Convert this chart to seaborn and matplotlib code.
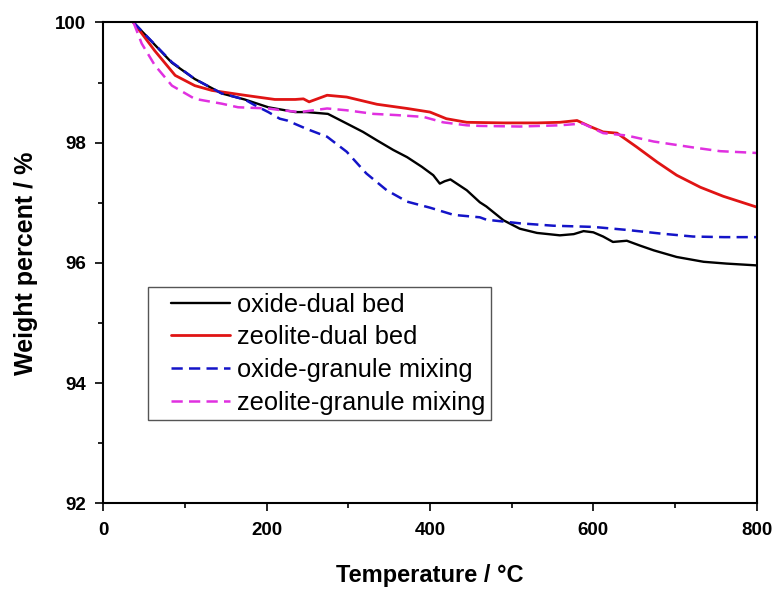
import matplotlib
matplotlib.use("Agg")
import matplotlib.pyplot as plt
import pandas as pd
import seaborn as sns
from matplotlib.lines import Line2D
from matplotlib.legend_handler import HandlerLine2D
from matplotlib.ticker import MultipleLocator

# ---- TGA weight-loss curves -------------------------------------------------
series_names = ["oxide-dual bed", "zeolite-dual bed",
                "oxide-granule mixing", "zeolite-granule mixing"]

oxide_dual_T = [37, 84, 112, 145, 173, 202, 235, 249, 275, 298, 318, 335, 355,
                372, 390, 404, 412, 418, 425, 445, 461, 469, 490, 510, 531, 559,
                576, 588, 600, 612, 624, 641, 657, 674, 702, 735, 763, 800]
oxide_dual_W = [100.0, 99.33, 99.06, 98.82, 98.72, 98.59, 98.51, 98.51, 98.48,
                98.32, 98.18, 98.04, 97.88, 97.76, 97.60, 97.46, 97.32, 97.36,
                97.39, 97.21, 97.01, 96.94, 96.71, 96.57, 96.50, 96.46, 96.48,
                96.53, 96.51, 96.44, 96.35, 96.37, 96.29, 96.21, 96.10, 96.02,
                95.99, 95.96]

zeolite_dual_T = [37, 63, 88, 112, 133, 173, 210, 235, 245, 252, 274, 298, 335,
                  372, 400, 420, 445, 490, 531, 559, 580, 596, 612, 629, 653,
                  678, 702, 731, 759, 800]
zeolite_dual_W = [100.0, 99.53, 99.12, 98.95, 98.87, 98.79, 98.72, 98.72, 98.73,
                  98.68, 98.79, 98.76, 98.64, 98.57, 98.51, 98.40, 98.34, 98.33,
                  98.33, 98.34, 98.37, 98.27, 98.18, 98.16, 97.93, 97.68, 97.46,
                  97.26, 97.11, 96.93]

oxide_mix_T = [37, 84, 112, 145, 173, 186, 202, 216, 225, 249, 274, 298, 322,
               347, 372, 400, 429, 461, 469, 510, 551, 600, 641, 682, 722, 760,
               800]
oxide_mix_W = [100.0, 99.34, 99.06, 98.82, 98.72, 98.62, 98.51, 98.40, 98.37,
               98.23, 98.10, 97.85, 97.49, 97.21, 97.02, 96.92, 96.80, 96.76,
               96.72, 96.66, 96.62, 96.60, 96.55, 96.49, 96.44, 96.43, 96.43]

zeolite_mix_T = [37, 47, 63, 84, 112, 145, 165, 202, 218, 241, 274, 298, 331,
                 359, 392, 416, 445, 461, 510, 559, 587, 612, 641, 674, 723,
                 755, 800]
zeolite_mix_W = [100.0, 99.65, 99.29, 98.95, 98.73, 98.65, 98.59, 98.57, 98.54,
                 98.51, 98.57, 98.54, 98.48, 98.46, 98.43, 98.34, 98.29, 98.28,
                 98.27, 98.29, 98.32, 98.16, 98.12, 98.02, 97.92, 97.86, 97.83]

x_ticks = [0, 200, 400, 600, 800]
y_ticks = [92, 94, 96, 98, 100]

# ---- style ------------------------------------------------------------------
sns.set_theme(style="ticks")
plt.rcParams["font.family"] = ["Liberation Sans", "DejaVu Sans"]
plt.rcParams["axes.edgecolor"] = "black"
plt.rcParams["axes.labelcolor"] = "black"
plt.rcParams["text.color"] = "black"
plt.rcParams["xtick.color"] = "black"
plt.rcParams["ytick.color"] = "black"

frames = []
for name, T, W in zip(series_names,
                      [oxide_dual_T, zeolite_dual_T, oxide_mix_T, zeolite_mix_T],
                      [oxide_dual_W, zeolite_dual_W, oxide_mix_W, zeolite_mix_W]):
    frames.append(pd.DataFrame({"Temperature": T, "Weight": W, "Sample": name}))
df = pd.concat(frames, ignore_index=True)

palette = {
    "oxide-dual bed": "#000000",
    "zeolite-dual bed": "#e01414",
    "oxide-granule mixing": "#1414c8",
    "zeolite-granule mixing": "#e030e0",
}
dash_map = {
    "oxide-dual bed": "",
    "zeolite-dual bed": "",
    "oxide-granule mixing": (4.5, 2.5),
    "zeolite-granule mixing": (4.5, 2.5),
}
line_widths = {
    "oxide-dual bed": 1.7,
    "zeolite-dual bed": 2.0,
    "oxide-granule mixing": 1.8,
    "zeolite-granule mixing": 1.8,
}

fig = plt.figure(figsize=(7.78, 5.89), dpi=100)
ax = fig.add_axes([0.1328, 0.1452, 0.8398, 0.8166])

sns.lineplot(data=df, x="Temperature", y="Weight", hue="Sample", style="Sample",
             hue_order=series_names, style_order=series_names,
             palette=palette, dashes=dash_map, estimator=None, sort=False,
             errorbar=None, linewidth=1.8, ax=ax)

for line, name in zip(ax.get_lines()[:len(series_names)], series_names):
    line.set_linewidth(line_widths[name])

ax.set_xlim(0, 800)
ax.set_ylim(92, 100)
ax.set_xticks(x_ticks, labels=[str(v) for v in x_ticks], fontweight="bold")
ax.set_yticks(y_ticks, labels=[str(v) for v in y_ticks], fontweight="bold")
ax.xaxis.set_minor_locator(MultipleLocator(100))
ax.yaxis.set_minor_locator(MultipleLocator(1))
ax.tick_params(which="major", direction="out", length=5.5, width=1.2,
               labelsize=13.5)
ax.tick_params(which="minor", direction="out", length=3.5, width=1.2)
ax.tick_params(axis="x", which="major", pad=8)
ax.tick_params(axis="y", which="major", pad=7)
ax.tick_params(top=False, right=False, which="both")
for sp in ax.spines.values():
    sp.set_visible(True)
    sp.set_linewidth(1.5)
    sp.set_color("black")

ax.set_xlabel("Temperature / °C", fontsize=17, fontweight="bold")
ax.set_ylabel("Weight percent / %", fontsize=18, fontweight="bold")
ax.xaxis.set_label_coords(0.5, -0.126)
ax.yaxis.set_label_coords(-0.100, 0.5)

handles, labels = ax.get_legend_handles_labels()
for h in handles:
    h.set_linewidth(line_widths.get(h.get_label(), 1.8))
leg = ax.legend(handles, labels, loc="upper left",
                bbox_to_anchor=(0.0689, 0.450), borderaxespad=0,
                fontsize=18.3, frameon=True, fancybox=False,
                edgecolor="#555555", framealpha=1,
                handlelength=3.0, handletextpad=0.28, borderpad=0.22,
                labelspacing=0.34,
                handler_map={Line2D: HandlerLine2D(xpad=0.66)})
leg.get_frame().set_linewidth(1.0)
for t in leg.get_texts():
    t.set_color("black")

fig.savefig("out.png", dpi=100)
